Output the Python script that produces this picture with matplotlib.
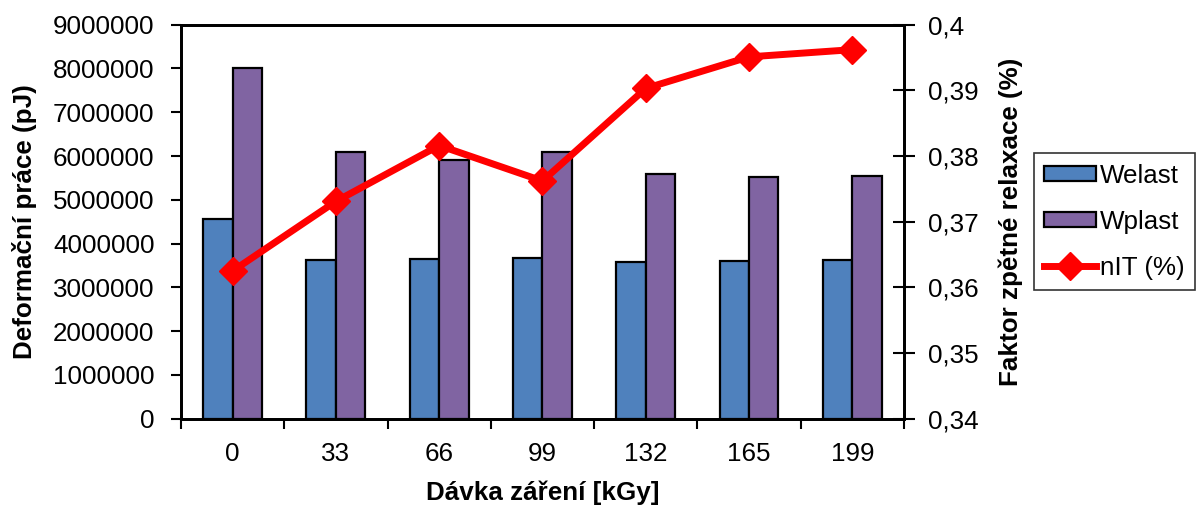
import numpy as np
from matplotlib import pyplot as plt

plt.rcParams['font.family'] = ['Liberation Sans', 'DejaVu Sans']

doses = ['0', '33', '66', '99', '132', '165', '199']
welast = [4555000, 3625000, 3650000, 3670000, 3580000, 3610000, 3630000]
wplast = [8020000, 6085000, 5910000, 6085000, 5590000, 5530000, 5540000]
nit = [0.3625, 0.3731, 0.3816, 0.3762, 0.3903, 0.3951, 0.3962]

FS = 18.7


def main():
    fig = plt.figure(figsize=(11.97, 5.07), dpi=100)
    ax = fig.add_axes([0.1512, 0.1742, 0.604, 0.7771])
    ax2 = ax.twinx()

    x = np.arange(len(doses))
    w = 0.285
    b1 = ax.bar(x - w / 2, welast, w, color='#4F81BD', edgecolor='black',
                linewidth=1.6, label='Welast', zorder=2)
    b2 = ax.bar(x + w / 2, wplast, w, color='#8064A2', edgecolor='black',
                linewidth=1.6, label='Wplast', zorder=2)
    ln, = ax2.plot(x, nit, color='#FF0000', linewidth=5, marker='D',
                   markersize=14, label='nIT (%)')

    ax.set_xlim(-0.5, len(doses) - 0.5)
    ax.set_ylim(0, 9000000)
    ax.set_yticks(np.arange(0, 9000001, 1000000))
    ax.set_yticklabels([str(v) for v in range(0, 9000001, 1000000)])
    ax.set_xticks(x)
    ax.set_xticklabels(doses)
    ax.set_xticks(np.arange(-0.5, len(doses), 1), minor=True)
    ax.tick_params(axis='x', which='major', length=0, pad=17, labelsize=FS)
    ax.tick_params(axis='x', which='minor', length=7, width=1.5, direction='out')
    ax.tick_params(axis='y', length=7, width=1.5, direction='out', pad=12,
                   labelsize=FS)

    ax2.set_ylim(0.34, 0.4)
    rt = [0.34, 0.35, 0.36, 0.37, 0.38, 0.39, 0.4]
    ax2.set_yticks(rt)
    ax2.set_yticklabels([('%g' % v).replace('.', ',') for v in rt])
    ax2.tick_params(axis='y', length=16, width=1.5, direction='inout', pad=9,
                    labelsize=FS)

    for a in (ax, ax2):
        for s in a.spines.values():
            s.set_linewidth(2)

    ax.set_ylabel('Deformační práce (pJ)', fontsize=FS, fontweight='bold')
    ax.yaxis.set_label_coords(-0.199, 0.5)
    ax2.set_ylabel('Faktor zpětné relaxace (%)', fontsize=FS, fontweight='bold')
    ax2.yaxis.set_label_coords(1.131, 0.5)
    ax.set_xlabel('Dávka záření [kGy]', fontsize=FS, fontweight='bold')
    ax.xaxis.set_label_coords(0.5, -0.156)

    leg = fig.legend([b1, b2, ln], ['Welast', 'Wplast', 'nIT (%)'],
                     loc='upper left', bbox_to_anchor=(0.8638, 0.698),
                     fontsize=FS, frameon=True, fancybox=False,
                     handlelength=2.0, handleheight=0.5, handletextpad=0.15,
                     borderpad=0.4, labelspacing=0.85, borderaxespad=0)
    leg.get_frame().set_edgecolor('black')
    leg.get_frame().set_linewidth(1.2)

    fig.savefig('out.png', dpi=100)


if __name__ == '__main__':
    main()
